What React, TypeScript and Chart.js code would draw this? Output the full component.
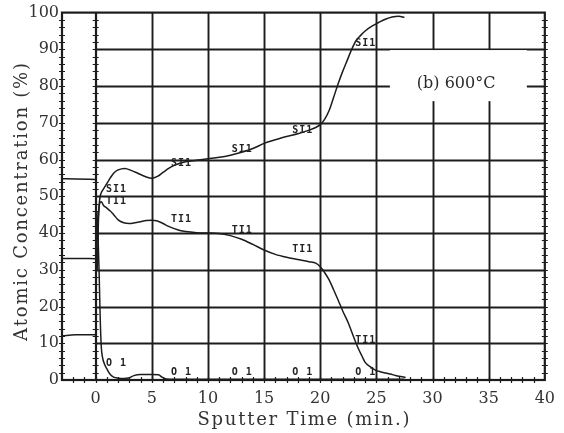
import React, { useEffect, useRef } from "react";
import { Chart, registerables } from "chart.js";
Chart.register(...registerables);

const xTicks = [0, 5, 10, 15, 20, 25, 30, 35, 40];
const yTicks = [0, 10, 20, 30, 40, 50, 60, 70, 80, 90, 100];

// Si (SI1)
const siTime = [0.15, 0.25, 0.35, 0.5, 0.7, 1.0, 1.3, 1.6, 2.0, 2.6, 3.2, 3.8, 4.4, 5.0, 5.5, 6.0, 6.5, 7.0, 7.5, 8.0, 9.0, 10, 11, 12, 13, 14, 15, 16, 17, 18, 19, 19.5, 20, 20.4, 20.8, 21.2, 21.6, 22.0, 22.4, 22.8, 23.2, 23.6, 24.0, 24.6, 25.2, 25.8, 26.4, 27.0, 27.5];
const siConc = [30, 44, 49, 51, 52, 53.5, 55, 56.3, 57.2, 57.6, 57, 56.2, 55.4, 54.9, 55.4, 56.5, 57.6, 58.4, 59, 59.4, 59.8, 60.2, 60.6, 61.2, 62, 63, 64.4, 65.4, 66.3, 67, 68, 68.6, 69.5, 71, 73.4, 77, 80.7, 84, 87, 90, 92.4, 93.8, 95, 96.3, 97.3, 98.2, 98.8, 99, 98.7];

// Ti (TI1)
const tiTime = [0.15, 0.25, 0.35, 0.5, 0.7, 1.0, 1.3, 1.6, 2.0, 2.5, 3.0, 3.5, 4.0, 4.5, 5.0, 5.5, 6.0, 6.5, 7.0, 7.5, 8, 9, 10, 11, 12, 13, 14, 15, 16, 17, 18, 19, 19.6, 20, 20.4, 20.8, 21.2, 21.6, 22.0, 22.5, 23.0, 23.4, 23.7, 24.0, 24.5, 24.9, 25.4, 25.8, 26.5, 27.0, 27.6];
const tiConc = [38, 45, 48, 48.5, 47.5, 46.8, 46, 45, 43.6, 42.8, 42.6, 42.8, 43.1, 43.4, 43.5, 43.3, 42.6, 41.8, 41.2, 40.7, 40.4, 40.1, 40, 39.9, 39.3, 38.3, 36.9, 35.4, 34.2, 33.4, 32.8, 32.2, 31.8, 30.8, 29.2, 27.2, 24.5, 21.7, 18.8, 15.5, 11.5, 8.5, 6.6, 4.8, 3.5, 2.7, 2.2, 1.9, 1.4, 1.0, 0.7];

// O (O 1)
const oTime = [0.1, 0.2, 0.3, 0.4, 0.5, 0.6, 0.8, 1.0, 1.3, 1.6, 2.0, 2.5, 3.0, 3.4, 4.0, 5.0, 5.6, 5.9, 6.3, 7.0, 10, 15, 20, 25, 27.5];
const oConc = [46, 40, 30, 17, 9, 6.3, 4.2, 3, 1.5, 0.8, 0.5, 0.4, 0.6, 1.2, 1.5, 1.5, 1.4, 0.8, 0.3, 0.2, 0.2, 0.2, 0.2, 0.2, 0.2];

// pre-sputter levels (left of zero)
const preTime = [-3, -1.8, 0];
const siPre = [54.8, 54.7, 54.6];
const tiPre = [33.1, 33.1, 33.0];
const oPre = [12.0, 12.3, 12.3];

// curve annotations
const labelText = ["SI1", "TI1", "TI1", "TI1", "TI1", "TI1", "SI1", "SI1", "SI1", "SI1", "O 1", "O 1", "O 1", "O 1", "O 1"];
const labelTime = [1.8, 1.8, 7.6, 13.0, 18.4, 24.0, 7.6, 13.0, 18.4, 24.0, 1.8, 7.6, 13.0, 18.4, 24.0];
const labelConc = [51.8, 48.6, 43.6, 40.6, 35.6, 10.8, 59.0, 62.8, 67.8, 91.6, 4.6, 2.1, 2.0, 2.0, 2.0];

const panelLabel = "(b) 600°C";
const xTitle = "Sputter Time (min.)";
const yTitle = "Atomic Concentration (%)";

const INK = "#1c1c1c";
const SERIF = "'DejaVu Serif', serif";

function spacedText(ctx: CanvasRenderingContext2D, text: string, cx: number, cy: number, target: number) {
  const chars = Array.from(text);
  const widths = chars.map((c) => ctx.measureText(c).width);
  const natural = widths.reduce((a, b) => a + b, 0);
  const extra = chars.length > 1 ? (target - natural) / (chars.length - 1) : 0;
  let x = cx - target / 2;
  ctx.textAlign = "left";
  ctx.textBaseline = "middle";
  chars.forEach((c, i) => {
    ctx.fillText(c, x, cy);
    x += widths[i] + extra;
  });
}

const framePlugin = {
  id: "frame",
  beforeDatasetsDraw(chart: any) {
    const { ctx, chartArea, scales } = chart;
    const { left, right, top, bottom } = chartArea;
    const xs = scales.x;
    const ys = scales.y;
    const x0 = xs.getPixelForValue(0);
    ctx.save();
    ctx.strokeStyle = INK;
    ctx.lineWidth = 1.9;
    ctx.beginPath();
    for (let v = 10; v <= 90; v += 10) {
      const py = Math.round(ys.getPixelForValue(v)) + 0.5;
      ctx.moveTo(x0, py);
      ctx.lineTo(right, py);
    }
    for (let v = 5; v <= 35; v += 5) {
      const px = Math.round(xs.getPixelForValue(v)) + 0.5;
      ctx.moveTo(px, top);
      ctx.lineTo(px, bottom);
    }
    ctx.stroke();
    // zero line and frame
    ctx.lineWidth = 2.2;
    ctx.beginPath();
    ctx.moveTo(Math.round(x0), top);
    ctx.lineTo(Math.round(x0), bottom);
    ctx.stroke();
    ctx.strokeRect(left, top, right - left, bottom - top);
    // minor ticks
    ctx.lineWidth = 1.2;
    ctx.beginPath();
    for (let v = 2; v < 100; v += 2) {
      const py = Math.round(ys.getPixelForValue(v)) + 0.5;
      for (const px of [left, x0, right]) {
        ctx.moveTo(px - 3, py);
        ctx.lineTo(px + 3, py);
      }
    }
    for (let v = -2; v < 40; v += 1) {
      const px = Math.round(xs.getPixelForValue(v)) + 0.5;
      ctx.moveTo(px, bottom - 3);
      ctx.lineTo(px, bottom + 3);
    }
    ctx.stroke();
    // panel label box
    const bx0 = xs.getPixelForValue(26.2);
    const bx1 = xs.getPixelForValue(38.4);
    const by0 = ys.getPixelForValue(89.8);
    const by1 = ys.getPixelForValue(75.9);
    ctx.fillStyle = "#ffffff";
    ctx.fillRect(bx0, by0, bx1 - bx0, by1 - by0);
    ctx.fillStyle = "#2a2a2a";
    ctx.font = `16px ${SERIF}`;
    ctx.textAlign = "left";
    ctx.textBaseline = "middle";
    ctx.fillText(panelLabel, xs.getPixelForValue(28.6), ys.getPixelForValue(80.6));
    ctx.restore();
  },
  afterDraw(chart: any) {
    const { ctx, chartArea, scales } = chart;
    const xs = scales.x;
    const ys = scales.y;
    ctx.save();
    // curve labels
    ctx.fillStyle = "#222";
    ctx.font = `bold 10px 'DejaVu Sans Mono', monospace`;
    labelText.forEach((t, i) => {
      const px = xs.getPixelForValue(labelTime[i]);
      const py = ys.getPixelForValue(labelConc[i]);
      spacedText(ctx, t, px, py, 20);
    });
    // axis titles
    ctx.fillStyle = "#333";
    ctx.font = `18px ${SERIF}`;
    const cxTitle = (chartArea.left + chartArea.right) / 2;
    spacedText(ctx, xTitle, cxTitle, 420, 212);
    ctx.translate(22, 202);
    ctx.rotate(-Math.PI / 2);
    spacedText(ctx, yTitle, 0, 0, 278);
    ctx.restore();
  },
};

const pts = (xs: number[], ys: number[]) => xs.map((x, i) => ({ x, y: ys[i] }));

export default function App() {
  const ref = useRef<HTMLCanvasElement>(null);
  useEffect(() => {
    if (!ref.current) return;
    const line = (data: any) => ({
      data,
      borderColor: INK,
      borderWidth: 1.5,
      pointRadius: 0,
      fill: false,
      cubicInterpolationMode: "monotone" as const,
    });
    const chart = new Chart(ref.current, {
      type: "line",
      data: {
        datasets: [
          line(pts(siTime, siConc)),
          line(pts(tiTime, tiConc)),
          line(pts(oTime, oConc)),
          line(pts(preTime, siPre)),
          line(pts(preTime, tiPre)),
          line(pts(preTime, oPre)),
        ],
      },
      options: {
        animation: false,
        responsive: false,
        devicePixelRatio: 1,
        layout: { padding: { top: 12, right: 17, left: 0, bottom: 0 } },
        plugins: { legend: { display: false }, tooltip: { enabled: false } },
        scales: {
          x: {
            type: "linear",
            min: -3,
            max: 40,
            grid: { display: false, drawTicks: false },
            border: { display: false },
            afterBuildTicks: (s: any) => {
              s.ticks = xTicks.map((v) => ({ value: v }));
            },
            afterFit: (s: any) => {
              s.height = 53;
            },
            ticks: {
              padding: 9,
              autoSkip: false,
              maxRotation: 0,
              color: "#333",
              font: { family: SERIF, size: 16 },
            },
          },
          y: {
            type: "linear",
            min: 0,
            max: 100,
            grid: { display: false, drawTicks: false },
            border: { display: false },
            afterBuildTicks: (s: any) => {
              s.ticks = yTicks.map((v) => ({ value: v }));
            },
            afterFit: (s: any) => {
              s.width = 62;
            },
            ticks: {
              padding: 3,
              autoSkip: false,
              color: "#333",
              font: { family: SERIF, size: 16 },
            },
          },
        },
      },
      plugins: [framePlugin],
    });
    return () => chart.destroy();
  }, []);
  return (
    <div style={{ position: "fixed", left: 0, top: 0, width: 564, height: 433, background: "#fff" }}>
      <canvas ref={ref} width={564} height={433} style={{ display: "block" }} />
    </div>
  );
}
